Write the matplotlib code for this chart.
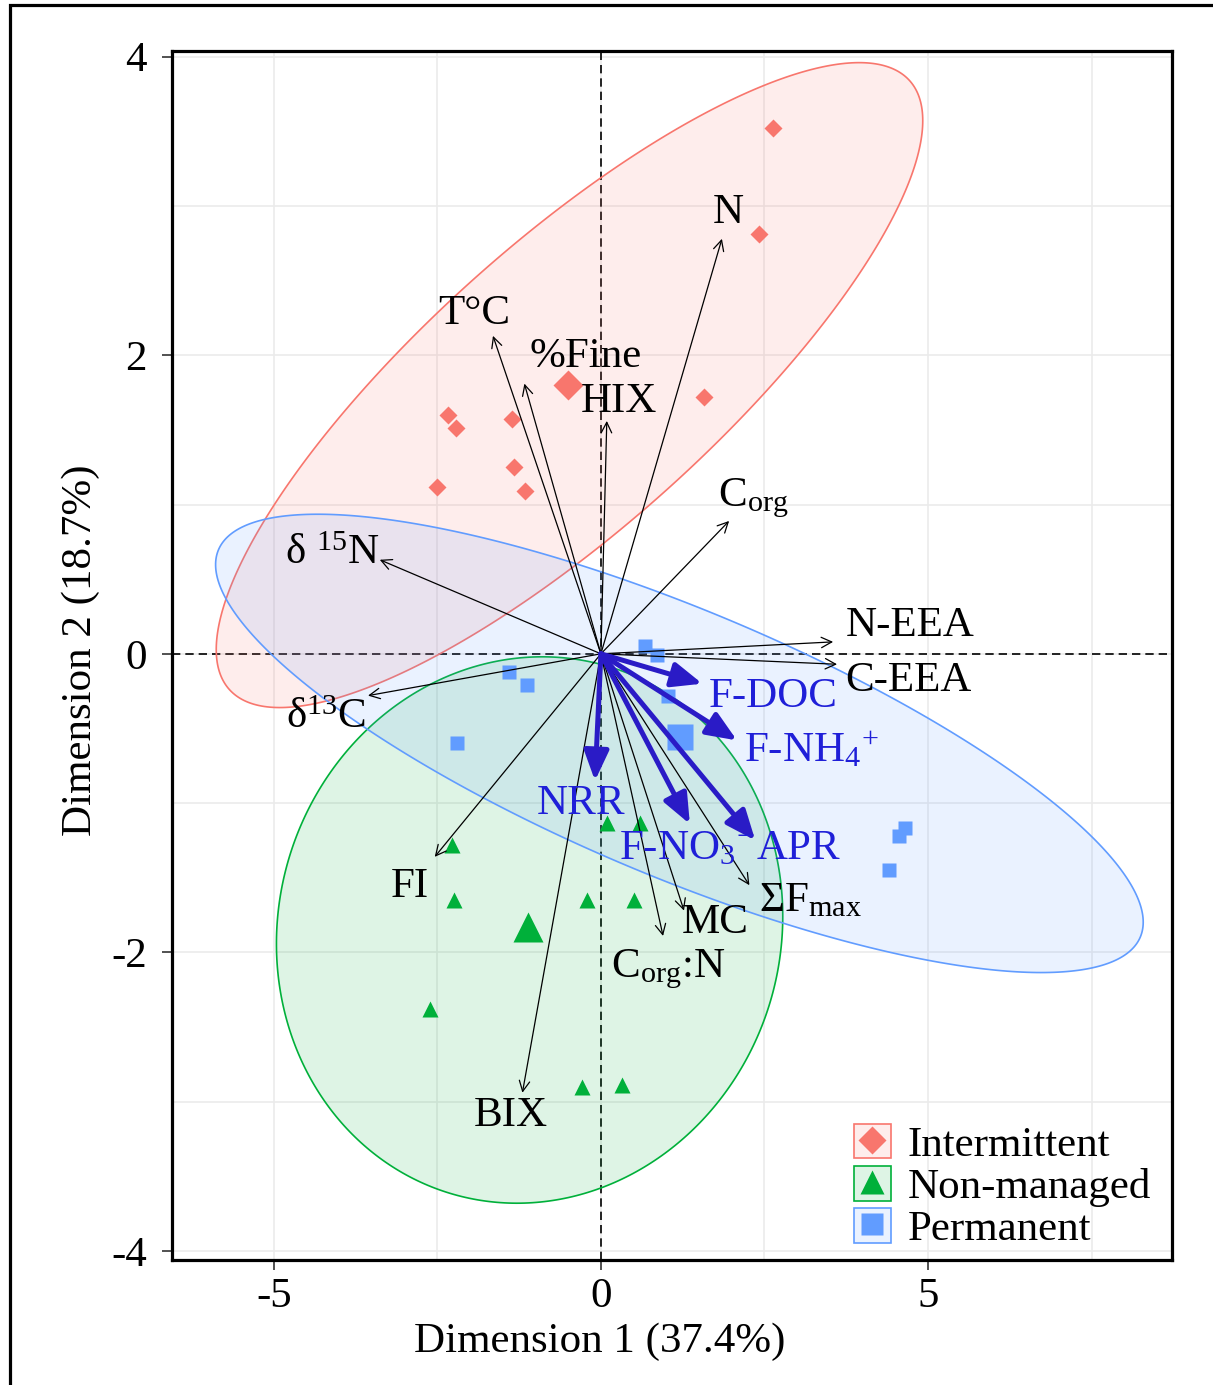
import numpy as np
import matplotlib
matplotlib.use('Agg')
import matplotlib.pyplot as plt
from matplotlib.lines import Line2D
from matplotlib.patches import Patch, Rectangle
from matplotlib.colors import to_rgba

plt.rcParams['font.family'] = ['Liberation Serif', 'DejaVu Serif']
plt.rcParams['mathtext.fontset'] = 'custom'
plt.rcParams['mathtext.rm'] = 'Liberation Serif'
plt.rcParams['mathtext.it'] = 'Liberation Serif:italic'
plt.rcParams['mathtext.default'] = 'regular'
plt.rcParams['axes.unicode_minus'] = False

# --- DATA: site scores per group ---
groups = ['Intermittent', 'Non-managed', 'Permanent']

int_x = [2.63, 2.41, 1.58, -2.33, -2.21, -1.36, -1.33, -1.16, -2.50]
int_y = [3.52, 2.81, 1.72, 1.60, 1.51, 1.57, 1.25, 1.09, 1.12]
nonm_x = [-2.28, -2.24, -2.62, -0.29, 0.32, -0.22, 0.51, 0.09, 0.60]
nonm_y = [-1.28, -1.65, -2.38, -2.90, -2.89, -1.65, -1.65, -1.13, -1.13]
perm_x = [0.67, 0.85, 1.03, -1.40, -1.13, -2.20, 4.65, 4.55, 4.40]
perm_y = [0.05, -0.01, -0.28, -0.12, -0.21, -0.60, -1.17, -1.22, -1.45]

# group centroids
mean_x = [-0.50, -1.11, 1.21]
mean_y = [1.80, -1.83, -0.56]

# confidence ellipses: centre, sd x, sd y, correlation
ell_cx = [-0.48, -1.09, 1.20]
ell_cy = [1.80, -1.85, -0.60]
ell_sx = [5.40, 3.87, 7.09]
ell_sy = [2.16, 1.83, 1.535]
ell_rho = [0.82, 0.05, -0.78]

# active variables (black arrows)
var_names = ['N', 'T°C', '%Fine', 'HIX', r'C$_{org}$', r'δ $^{15}$N', r'δ$^{13}$C',
             'N-EEA', 'C-EEA', 'FI', 'BIX', 'MC', r'C$_{org}$:N', r'ΣF$_{max}$']
var_x = [1.85, -1.65, -1.17, 0.09, 1.96, -3.38, -3.56, 3.55, 3.61, -2.54, -1.20, 1.27, 0.95, 2.27]
var_y = [2.78, 2.13, 1.81, 1.56, 0.89, 0.63, -0.28, 0.08, -0.07, -1.36, -2.94, -1.72, -1.89, -1.55]

# supplementary variables (blue arrows)
sup_names = ['F-DOC', r'F-NH$_4$$^{+}$', 'NRR', r'F-NO$_3$$^{-}$', 'APR']
sup_x = [1.55, 2.08, -0.09, 1.36, 2.36]
sup_y = [-0.20, -0.58, -0.85, -1.14, -1.25]

# label offsets from arrow tips (pixels)
var_off = [(6, 26), (-19, 22), (61, 27), (12, 19), (24, 23), (-48, 6), (-42, -22),
           (77, 16), (71, -16), (-25, -30), (-12, -23), (31, -12), (5, -33), (61, -16)]
sup_off = [(71, -13), (74, -10), (-14, -23), (-4, -25), (43, -8)]

colors = ['#F8766D', '#00B03A', '#619CFF']
markers = ['D', '^', 's']
small_ms = [9, 11, 9.5]
big_ms = [15, 22, 19]
FS = 31

fig = plt.figure(figsize=(12.13, 13.85), dpi=100)
ax = fig.add_axes([0.1416, 0.0903, 0.8246, 0.8731])

# outer frame of the figure (left and top edges visible)
fig.patches.append(Rectangle((10 / 1213, -0.1), 1.2, 1.1 - 5 / 1385, transform=fig.transFigure,
                             fill=False, ec='black', lw=2.3, clip_on=False))

ax.set_xlim(-6.56, 8.73)
ax.set_ylim(-4.06, 4.04)
ax.set_xticks([-5, 0, 5])
ax.set_yticks([-4, -2, 0, 2, 4])
ax.set_xticks([-2.5, 2.5, 7.5], minor=True)
ax.set_yticks([-3, -1, 1, 3], minor=True)
ax.grid(True, which='both', color='#EBEBEB', lw=1.2, zorder=0)
ax.set_axisbelow(True)
ax.tick_params(which='major', length=7, width=1.2, color='#333333', labelsize=FS, pad=6)
ax.tick_params(axis='y', pad=11)
ax.tick_params(which='minor', length=0)
for sp in ax.spines.values():
    sp.set_linewidth(2.3)

ax.axhline(0, color='black', ls=(0, (5, 3)), lw=1.2, zorder=1)
ax.axvline(0, color='black', ls=(0, (5, 3)), lw=1.2, zorder=1)

# ellipses
t = np.linspace(0, 2 * np.pi, 400)
for i in range(3):
    ex = ell_cx[i] + ell_sx[i] * np.cos(t)
    ey = ell_cy[i] + ell_sy[i] * (ell_rho[i] * np.cos(t) + np.sqrt(1 - ell_rho[i] ** 2) * np.sin(t))
    ax.fill(ex, ey, fc=to_rgba(colors[i], 0.13), ec=colors[i], lw=1.2, zorder=2)

# points
pts = [(int_x, int_y), (nonm_x, nonm_y), (perm_x, perm_y)]
for i, (px, py) in enumerate(pts):
    ax.plot(px, py, ls='', marker=markers[i], color=colors[i], ms=small_ms[i], mec='none', zorder=3)
    ax.plot(mean_x[i], mean_y[i], ls='', marker=markers[i], color=colors[i], ms=big_ms[i], mec='none', zorder=3)

# black arrows
for name, x, y, off in zip(var_names, var_x, var_y, var_off):
    ax.annotate('', xy=(x, y), xytext=(0, 0),
                arrowprops=dict(arrowstyle='->,head_length=0.5,head_width=0.25', color='black',
                                lw=0.9, mutation_scale=15, shrinkA=0, shrinkB=0), zorder=4)
    ax.annotate(name, xy=(x, y), xytext=off, textcoords='offset pixels', ha='center', va='center',
                fontsize=FS, color='black', zorder=6)

# blue arrows
for name, x, y, off in zip(sup_names, sup_x, sup_y, sup_off):
    ax.annotate('', xy=(x, y), xytext=(0, 0),
                arrowprops=dict(arrowstyle='-|>,head_length=0.65,head_width=0.27', color='#2A1BC6',
                                lw=3.6, mutation_scale=28, shrinkA=0, shrinkB=0), zorder=5)
    ax.annotate(name, xy=(x, y), xytext=off, textcoords='offset pixels', ha='center', va='center',
                fontsize=FS, color='#1F1FD8', zorder=6)

ax.set_xlabel('Dimension 1 (37.4%)', fontsize=FS)
ax.set_ylabel('Dimension 2 (18.7%)', fontsize=FS)
ax.xaxis.set_label_coords(0.428, -0.052)
ax.yaxis.set_label_coords(-0.0717, 0.504)

handles = []
for i in range(3):
    box = Patch(fc=to_rgba(colors[i], 0.13), ec=colors[i], lw=1.2)
    mk = Line2D([], [], ls='', marker=markers[i], color=colors[i], ms=small_ms[i] * 1.6, mec='none')
    handles.append((box, mk))
ax.legend(handles, groups, loc='lower right', bbox_to_anchor=(0.99, 0.0), fontsize=FS, frameon=False,
          handlelength=0.86, handleheight=0.86, handletextpad=0.4, labelspacing=0.02,
          borderaxespad=0.15, borderpad=0.1)

fig.savefig('out.png', dpi=100)
